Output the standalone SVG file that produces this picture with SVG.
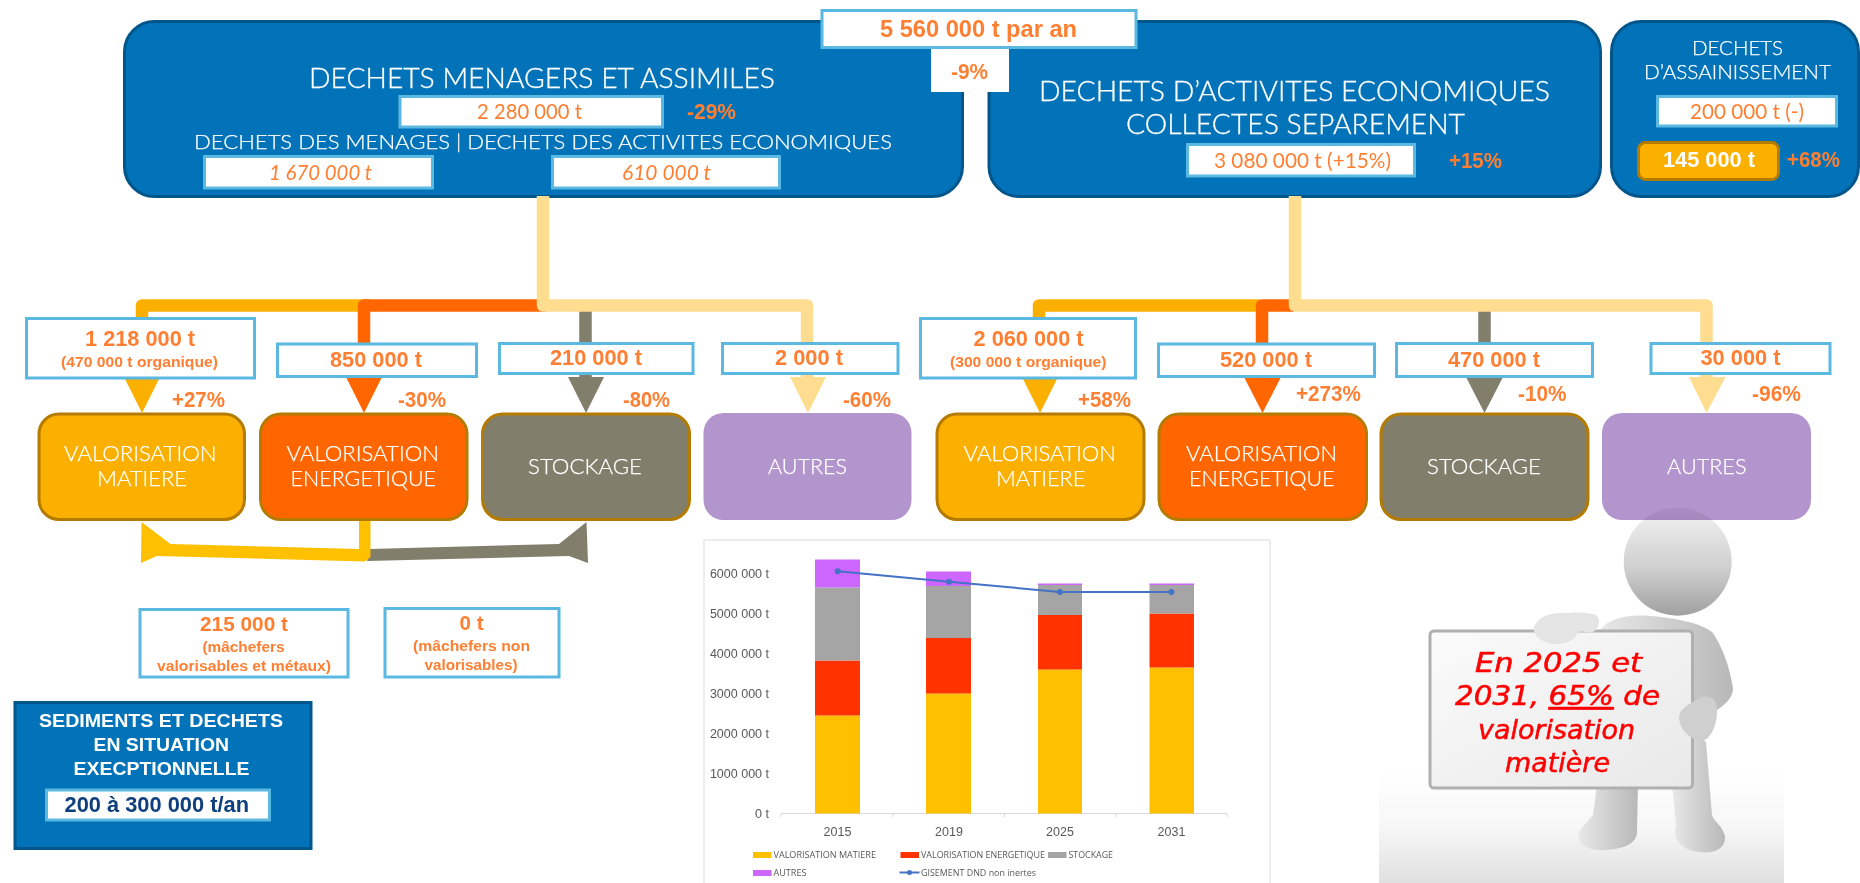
<svg xmlns="http://www.w3.org/2000/svg" width="1860" height="883" viewBox="0 0 1860 883">
<style>
text{font-family:"Liberation Sans",Arial,sans-serif}
.bg{fill:#0273B8;stroke:#00558A;stroke-width:3}
.vb{fill:#fff;stroke:#5BB8E0;stroke-width:3}
.h{font-family:Lato,"Open Sans",sans-serif;font-weight:300;fill:#fff;stroke:#fff;stroke-width:.3;font-size:28px}
.m{font-family:Lato,"Open Sans",sans-serif;font-weight:300;fill:#fff;stroke:#fff;stroke-width:.25;font-size:20px}
.n{font-family:Lato,"Open Sans",sans-serif;font-weight:400;fill:#FF7F32;font-size:22px}
.i{font-style:italic}
.o{font-weight:700;fill:#FF7F32;font-size:22px}
.s{font-weight:700;fill:#FF7F32;font-size:14.500px}
.w{font-weight:700;fill:#fff;font-size:19px}
.vm{fill:#FBB000;stroke:#B57B00;stroke-width:3}
.ve{fill:#FF6600;stroke:#B57B00;stroke-width:3}
.st{fill:#817E6B;stroke:#B57B00;stroke-width:3}
.au{fill:#B395CE}
.b{font-family:Lato,"Open Sans",sans-serif;font-weight:300;fill:#fff;stroke:#fff;stroke-width:.25;font-size:21.500px}
.c{fill:none;stroke-width:12.500;stroke-linejoin:round}
.ax{font-family:"Open Sans","Noto Sans",sans-serif;fill:#595959;font-size:12.500px}
.lg{font-family:"Open Sans","Noto Sans",sans-serif;fill:#595959;font-size:9px}
.hw{font-family:"DejaVu Sans",sans-serif;font-style:oblique;fill:#f00;stroke:#f00;stroke-width:.5;font-size:27px}
.fig{fill:url(#gb)}
</style>
<defs>
<linearGradient id="gh" x1="0" y1="0" x2="0" y2="1"><stop offset="0" stop-color="#f2f2f2"/><stop offset=".55" stop-color="#d0d0d0"/><stop offset="1" stop-color="#a0a0a0"/></linearGradient>
<linearGradient id="gb" x1="0" y1="0" x2="1" y2="0"><stop offset="0" stop-color="#e8e8e8"/><stop offset="1" stop-color="#b8b8b8"/></linearGradient>
<linearGradient id="gf" x1="0" y1="0" x2="0" y2="1"><stop offset="0" stop-color="#fff"/><stop offset=".5" stop-color="#f7f7f7"/><stop offset="1" stop-color="#e0e0e0"/></linearGradient>
<linearGradient id="gs" x1="0" y1="0" x2="1" y2="1"><stop offset="0" stop-color="#fbfbfb"/><stop offset="1" stop-color="#e8e8e8"/></linearGradient>
</defs>

<g id="dechets-menagers">
<rect class="bg" x="124.500" y="21.500" width="838" height="175" rx="30"/>
<text class="h" x="309" y="88" textLength="466" lengthAdjust="spacingAndGlyphs">DECHETS MENAGERS ET ASSIMILES</text>
<rect class="vb" x="400" y="96.500" width="262.500" height="30.500"/>
<text class="n" x="477" y="119" textLength="105" lengthAdjust="spacingAndGlyphs">2 280 000 t</text>
<text class="o" x="687" y="119" textLength="49" lengthAdjust="spacingAndGlyphs">-29%</text>
<text class="m" x="194" y="149" textLength="698" lengthAdjust="spacingAndGlyphs">DECHETS DES MENAGES | DECHETS DES ACTIVITES ECONOMIQUES</text>
<rect class="vb" x="204.500" y="156.500" width="228" height="31.500"/>
<text class="n i" x="269" y="180" textLength="103" lengthAdjust="spacingAndGlyphs">1 670 000 t</text>
<rect class="vb" x="552.500" y="156.500" width="227" height="31.500"/>
<text class="n i" x="622" y="180" textLength="89" lengthAdjust="spacingAndGlyphs">610 000 t</text>
</g>

<g id="dechets-activites">
<rect class="bg" x="989" y="21.500" width="611.500" height="175" rx="30"/>
<text class="h" x="1039" y="101" textLength="511" lengthAdjust="spacingAndGlyphs">DECHETS D’ACTIVITES ECONOMIQUES</text>
<text class="h" x="1126" y="134" textLength="339" lengthAdjust="spacingAndGlyphs">COLLECTES SEPAREMENT</text>
<rect class="vb" x="1187.500" y="144.500" width="227" height="31.500"/>
<text class="n" x="1214" y="168" textLength="177" lengthAdjust="spacingAndGlyphs">3 080 000 t (+15%)</text>
<text class="o" x="1449" y="168" textLength="53" lengthAdjust="spacingAndGlyphs">+15%</text>
</g>

<g id="dechets-assainissement">
<rect class="bg" x="1611.500" y="21.500" width="247" height="175" rx="30"/>
<text class="m" x="1692" y="55" textLength="91" lengthAdjust="spacingAndGlyphs">DECHETS</text>
<text class="m" x="1644" y="79" textLength="187" lengthAdjust="spacingAndGlyphs">D’ASSAINISSEMENT</text>
<rect class="vb" x="1657.500" y="96.500" width="179" height="29.500"/>
<text class="n" x="1690" y="119" textLength="114" lengthAdjust="spacingAndGlyphs">200 000 t (-)</text>
<rect class="vm" x="1638.500" y="142.500" width="140" height="37" rx="7"/>
<text class="o" style="fill:#fff" x="1663" y="167" textLength="92" lengthAdjust="spacingAndGlyphs">145 000 t</text>
<text class="o" x="1787" y="167" textLength="53" lengthAdjust="spacingAndGlyphs">+68%</text>
</g>

<g id="ecart-total">
<rect x="931" y="49" width="78" height="43" fill="#fff"/>
<text class="o" x="951" y="79" textLength="37" lengthAdjust="spacingAndGlyphs">-9%</text>
</g>
<g id="total">
<rect class="vb" x="822" y="10.500" width="314" height="37"/>
<text x="880" y="37" style="font-weight:700;fill:#FF7F32;font-size:23px" textLength="197" lengthAdjust="spacingAndGlyphs">5 560 000 t par an</text>
</g>

<g id="connectors">
<path class="c" stroke="#FBB000" d="M142 320V305.500H370"/>
<path class="c" stroke="#FF6600" d="M364 345V305.500H546"/>
<path class="c" stroke="#817E6B" d="M585.500 300V380"/>
<path class="c" stroke="#FFDD90" d="M543 196V305.500H807V380"/>
<polygon fill="#FBB000" points="125,379 159,379 142,413"/>
<polygon fill="#FF6600" points="346,377 382,377 364,413"/>
<polygon fill="#817E6B" points="568,377 604,377 586,413"/>
<polygon fill="#FFDD90" points="790,377 826,377 808,413"/>

<path class="c" stroke="#FBB000" d="M1039 320V305.500H1260"/>
<path class="c" stroke="#FF6600" d="M1262 345V305.500H1294"/>
<path class="c" stroke="#817E6B" d="M1484.500 300V380"/>
<path class="c" stroke="#FFDD90" d="M1295 196V305.500H1706.500V380"/>
<polygon fill="#FBB000" points="1023,379 1057,379 1040,413"/>
<polygon fill="#FF6600" points="1244,377 1281,377 1262.500,413"/>
<polygon fill="#817E6B" points="1466,377 1503,377 1484.500,413"/>
<polygon fill="#FFDD90" points="1689,377 1725.500,377 1706.500,413"/>

<polygon fill="#817E6B" points="370,549 559,544 586.500,522 588,563 569,556 367,561"/>
<polygon fill="#FFC000" points="141.500,522 170.500,544 359,549 359,520 370.500,520 370.500,557 365,561.500 157,556 141,563"/>
</g>

<g id="valeur-1218000">
<rect class="vb" x="26.500" y="318.500" width="228" height="59.500"/>
<text class="o" x="85" y="346" textLength="110" lengthAdjust="spacingAndGlyphs">1 218 000 t</text>
<text class="s" x="61" y="367" textLength="157" lengthAdjust="spacingAndGlyphs">(470 000 t organique)</text>
</g>
<g id="valeur-850000">
<rect class="vb" x="277.500" y="344" width="199" height="32.500"/>
<text class="o" x="330" y="367" textLength="92" lengthAdjust="spacingAndGlyphs">850 000 t</text>
</g>
<g id="valeur-210000">
<rect class="vb" x="499.500" y="343.500" width="193.500" height="30"/>
<text class="o" x="550" y="365" textLength="92" lengthAdjust="spacingAndGlyphs">210 000 t</text>
</g>
<g id="valeur-2000">
<rect class="vb" x="722.500" y="343.500" width="175.500" height="30"/>
<text class="o" x="775" y="365" textLength="68" lengthAdjust="spacingAndGlyphs">2 000 t</text>
</g>
<g id="valeur-2060000">
<rect class="vb" x="920.500" y="318.500" width="215" height="59.500"/>
<text class="o" x="973.500" y="346" textLength="110" lengthAdjust="spacingAndGlyphs">2 060 000 t</text>
<text class="s" x="950" y="367" textLength="156.500" lengthAdjust="spacingAndGlyphs">(300 000 t organique)</text>
</g>
<g id="valeur-520000">
<rect class="vb" x="1158.500" y="344" width="216" height="32.500"/>
<text class="o" x="1220" y="367" textLength="92" lengthAdjust="spacingAndGlyphs">520 000 t</text>
</g>
<g id="valeur-470000">
<rect class="vb" x="1396.500" y="343.500" width="196" height="33"/>
<text class="o" x="1448" y="367" textLength="92" lengthAdjust="spacingAndGlyphs">470 000 t</text>
</g>
<g id="valeur-30000">
<rect class="vb" x="1651" y="343.500" width="179" height="30"/>
<text class="o" x="1700.500" y="365" textLength="80" lengthAdjust="spacingAndGlyphs">30 000 t</text>
</g>

<g id="pourcentages">
<text class="o" x="172" y="407" textLength="53" lengthAdjust="spacingAndGlyphs">+27%</text>
<text class="o" x="398" y="407" textLength="48" lengthAdjust="spacingAndGlyphs">-30%</text>
<text class="o" x="623" y="407" textLength="47" lengthAdjust="spacingAndGlyphs">-80%</text>
<text class="o" x="843" y="407" textLength="48" lengthAdjust="spacingAndGlyphs">-60%</text>
<text class="o" x="1078" y="407" textLength="53" lengthAdjust="spacingAndGlyphs">+58%</text>
<text class="o" x="1296" y="401" textLength="65" lengthAdjust="spacingAndGlyphs">+273%</text>
<text class="o" x="1518" y="401" textLength="48.500" lengthAdjust="spacingAndGlyphs">-10%</text>
<text class="o" x="1752" y="401" textLength="49" lengthAdjust="spacingAndGlyphs">-96%</text>
</g>

<g id="vm-1">
<rect class="vm" x="39" y="414" width="205.500" height="105.500" rx="20"/>
<text class="b" x="64" y="461" textLength="152.500" lengthAdjust="spacingAndGlyphs">VALORISATION</text>
<text class="b" x="97" y="486" textLength="90" lengthAdjust="spacingAndGlyphs">MATIERE</text>
</g>
<g id="ve-1">
<rect class="ve" x="260.500" y="414" width="206.500" height="105.500" rx="20"/>
<text class="b" x="286.500" y="461" textLength="152.500" lengthAdjust="spacingAndGlyphs">VALORISATION</text>
<text class="b" x="290.500" y="486" textLength="145.500" lengthAdjust="spacingAndGlyphs">ENERGETIQUE</text>
</g>
<g id="st-1">
<rect class="st" x="482.500" y="414" width="207" height="105.500" rx="20"/>
<text class="b" x="528" y="474" textLength="114" lengthAdjust="spacingAndGlyphs">STOCKAGE</text>
</g>
<g id="au-1">
<rect class="au" x="703.500" y="413" width="208" height="107" rx="20"/>
<text class="b" x="768" y="474" textLength="79" lengthAdjust="spacingAndGlyphs">AUTRES</text>
</g>
<g id="vm-2">
<rect class="vm" x="937" y="414" width="207" height="105.500" rx="20"/>
<text class="b" x="963.500" y="461" textLength="152.500" lengthAdjust="spacingAndGlyphs">VALORISATION</text>
<text class="b" x="996" y="486" textLength="89.500" lengthAdjust="spacingAndGlyphs">MATIERE</text>
</g>
<g id="ve-2">
<rect class="ve" x="1159" y="414" width="207.500" height="105.500" rx="20"/>
<text class="b" x="1186" y="461" textLength="151" lengthAdjust="spacingAndGlyphs">VALORISATION</text>
<text class="b" x="1189" y="486" textLength="145.500" lengthAdjust="spacingAndGlyphs">ENERGETIQUE</text>
</g>
<g id="st-2">
<rect class="st" x="1381" y="414" width="207" height="105.500" rx="20"/>
<text class="b" x="1427" y="474" textLength="114" lengthAdjust="spacingAndGlyphs">STOCKAGE</text>
</g>
<g id="au-2">
<rect class="au" x="1602" y="413" width="209" height="107" rx="20"/>
<text class="b" x="1667" y="474" textLength="79.500" lengthAdjust="spacingAndGlyphs">AUTRES</text>
</g>

<g id="machefers-valorisables">
<rect class="vb" x="140" y="609.500" width="208" height="67.500"/>
<text x="200" y="631" style="font-weight:700;fill:#FF7F32;font-size:21px" textLength="88" lengthAdjust="spacingAndGlyphs">215 000 t</text>
<text class="s" x="202.500" y="652" textLength="82" lengthAdjust="spacingAndGlyphs">(mâchefers</text>
<text class="s" x="157" y="671" textLength="174" lengthAdjust="spacingAndGlyphs">valorisables  et métaux)</text>
</g>
<g id="machefers-non-valorisables">
<rect class="vb" x="385" y="608.500" width="174" height="68.500"/>
<text x="459.500" y="630" style="font-weight:700;fill:#FF7F32;font-size:21px" textLength="24" lengthAdjust="spacingAndGlyphs">0 t</text>
<text class="s" x="413" y="651" textLength="117" lengthAdjust="spacingAndGlyphs">(mâchefers  non</text>
<text class="s" x="424.500" y="670" textLength="93" lengthAdjust="spacingAndGlyphs">valorisables)</text>
</g>

<g id="sediments">
<rect class="bg" x="15" y="702.500" width="296" height="146"/>
<text class="w" x="39" y="727" textLength="244" lengthAdjust="spacingAndGlyphs">SEDIMENTS ET DECHETS</text>
<text class="w" x="93.500" y="751" textLength="135.500" lengthAdjust="spacingAndGlyphs">EN SITUATION</text>
<text class="w" x="73.500" y="775" textLength="176" lengthAdjust="spacingAndGlyphs">EXECPTIONNELLE</text>
<rect class="vb" x="46.500" y="790" width="223" height="30"/>
<text x="64.500" y="812" style="font-weight:700;fill:#0F3F7C;font-size:22px" textLength="184.500" lengthAdjust="spacingAndGlyphs">200 à 300 000 t/an</text>
</g>

<g id="graphique">
<rect x="704" y="540" width="566" height="350" fill="#fff" stroke="#e2e2e2" stroke-width="1.200"/>
<g class="ax" text-anchor="end">
<text x="769" y="578">6000 000 t</text>
<text x="769" y="618">5000 000 t</text>
<text x="769" y="658">4000 000 t</text>
<text x="769" y="698">3000 000 t</text>
<text x="769" y="738">2000 000 t</text>
<text x="769" y="778">1000 000 t</text>
<text x="769" y="818">0 t</text>
</g>
<path d="M781 813.500H1227M781 813.500V817M893 813.500V817M1004.500 813.500V817M1116 813.500V817M1227 813.500V817" fill="none" stroke="#d9d9d9" stroke-width="1"/>
<g fill="#FFC000">
<rect x="815" y="715.500" width="45" height="98"/>
<rect x="926" y="693.500" width="45" height="120"/>
<rect x="1038" y="669.500" width="44" height="144"/>
<rect x="1149.500" y="667.500" width="44.500" height="146"/>
</g>
<g fill="#FF3300">
<rect x="815" y="660.500" width="45" height="55"/>
<rect x="926" y="638" width="45" height="55.500"/>
<rect x="1038" y="615" width="44" height="54.500"/>
<rect x="1149.500" y="613.500" width="44.500" height="54"/>
</g>
<g fill="#A5A5A5">
<rect x="815" y="587.500" width="45" height="73"/>
<rect x="926" y="586" width="45" height="52"/>
<rect x="1038" y="585" width="44" height="30"/>
<rect x="1149.500" y="585" width="44.500" height="28.500"/>
</g>
<g fill="#CC66FF">
<rect x="815" y="559.500" width="45" height="28"/>
<rect x="926" y="571.500" width="45" height="14.500"/>
<rect x="1038" y="583.500" width="44" height="1.500"/>
<rect x="1149.500" y="583.500" width="44.500" height="1.500"/>
</g>
<polyline points="837.700,571.300 949,581.700 1059.800,592 1171.400,592" fill="none" stroke="#4472C4" stroke-width="2"/>
<g fill="#4472C4">
<circle cx="837.700" cy="571.300" r="3"/><circle cx="949" cy="581.700" r="3"/><circle cx="1059.800" cy="592" r="3"/><circle cx="1171.400" cy="592" r="3"/>
</g>
<g class="ax" text-anchor="middle">
<text x="837.500" y="836">2015</text>
<text x="949" y="836">2019</text>
<text x="1060" y="836">2025</text>
<text x="1171.500" y="836">2031</text>
</g>
<rect x="753" y="852" width="18.500" height="6" fill="#FFC000"/>
<text class="lg" x="773.500" y="857.500" textLength="102.500" lengthAdjust="spacingAndGlyphs">VALORISATION MATIERE</text>
<rect x="900.500" y="852" width="18.500" height="6" fill="#FF3300"/>
<text class="lg" x="921" y="857.500" textLength="124" lengthAdjust="spacingAndGlyphs">VALORISATION ENERGETIQUE</text>
<rect x="1048" y="852" width="18.500" height="6" fill="#A5A5A5"/>
<text class="lg" x="1068.500" y="857.500" textLength="44.500" lengthAdjust="spacingAndGlyphs">STOCKAGE</text>
<rect x="753" y="870" width="18.500" height="6" fill="#CC66FF"/>
<text class="lg" x="773.500" y="875.500" textLength="33" lengthAdjust="spacingAndGlyphs">AUTRES</text>
<path d="M899.500 872.500H919.500" stroke="#4472C4" stroke-width="2"/>
<circle cx="909.500" cy="872.500" r="2.500" fill="#4472C4"/>
<text class="lg" x="921" y="875.500" textLength="115" lengthAdjust="spacingAndGlyphs">GISEMENT DND non inertes</text>
</g>

<g id="personnage">
<rect x="1379" y="770" width="405" height="113" fill="url(#gf)"/>
<circle cx="1677.700" cy="561.700" r="54" fill="url(#gh)" style="mix-blend-mode:multiply"/>
<path class="fig" d="M1597 785L1593 815L1580 830C1574 845 1590 851 1605 850C1625 849 1638 843 1637 830L1638 785Z"/>
<path class="fig" d="M1672 785L1676 825C1672 838 1680 850 1700 852C1715 854 1726 848 1725 836C1722 825 1714 822 1712 815L1706 742L1690 730L1672 760Z"/>
<path class="fig" d="M1600 630C1608 618 1630 614 1650 616C1668 617 1700 622 1712 632C1722 645 1730 668 1733 688C1733 700 1722 706 1715 712L1700 720L1680 700L1690 640Z"/>
<rect x="1430" y="631" width="262.500" height="157" rx="4" fill="url(#gs)" stroke="#b0b0b0" stroke-width="3"/>
<path d="M1534 627C1538 616 1552 612 1570 613C1578 612 1590 613 1596 615C1601 619 1600 628 1593 632C1588 634 1584 630 1578 632C1576 640 1565 645 1553 644C1540 642 1532 634 1534 627Z" fill="#e4e4e4"/>
<path d="M1697 700C1705 693 1716 697 1717 708C1718 722 1712 738 1703 741C1692 740 1680 732 1679 718C1679 710 1688 704 1697 700Z" fill="#cfcfcf"/>
<text class="hw" x="1475" y="672" textLength="167" lengthAdjust="spacingAndGlyphs">En 2025 et</text>
<text class="hw" x="1455" y="705" textLength="205" lengthAdjust="spacingAndGlyphs">2031, <tspan text-decoration="underline">65%</tspan> de</text>
<text class="hw" x="1478" y="738.500" textLength="157" lengthAdjust="spacingAndGlyphs">valorisation</text>
<text class="hw" x="1505" y="772" textLength="105" lengthAdjust="spacingAndGlyphs">matière</text>
</g>
</svg>
